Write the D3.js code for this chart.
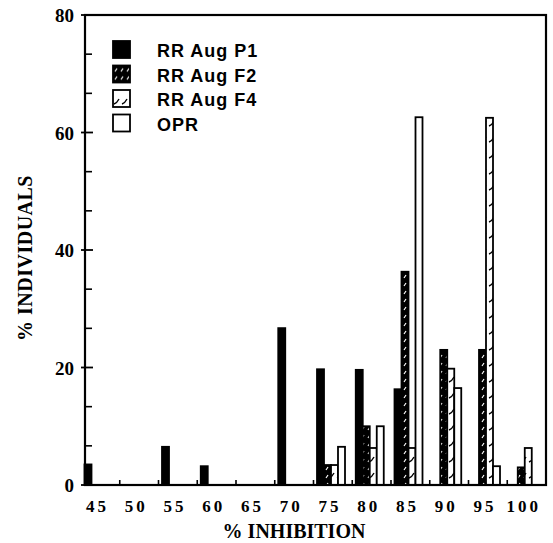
<!DOCTYPE html>
<html lang="en">
	<head>
		<meta charset="utf-8">
		<title>% Inhibition histogram</title>
		<script type="text/javascript" src="https://cdn.jsdelivr.net/npm/d3@7"></script>
		<style type="text/css">
			body { margin: 0; background: #fff; }
			.tick-label {
				font-family: "Liberation Serif", "Times New Roman", serif;
				font-weight: bold;
				fill: #000;
			}
			.axis-title {
				font-family: "Liberation Serif", "Times New Roman", serif;
				font-weight: bold;
				font-size: 20px;
				fill: #000;
			}
			.legend-text {
				font-family: "Liberation Sans", Arial, sans-serif;
				font-weight: bold;
				font-size: 18px;
				letter-spacing: 1px;
				fill: #000;
			}
		</style>
	</head>
	<body>
		<script type="text/javascript">

			var w = 553;
			var h = 543;

			// data
			var categories = ["45", "50", "55", "60", "65", "70", "75", "80", "85", "90", "95", "100"];
			var p1  = [3.5, 0, 6.5, 3.2, 0, 26.7, 19.7, 19.6, 16.3, 0, 0, 0];
			var f2  = [0, 0, 0, 0, 0, 0, 3.4, 10, 36.3, 23, 23, 3];
			var f4  = [0, 0, 0, 0, 0, 0, 3.4, 6.3, 6.3, 19.8, 62.5, 6.3];
			var opr = [0, 0, 0, 0, 0, 0, 6.5, 10, 62.6, 16.5, 3.2, 0];
			var seriesNames = ["RR Aug P1", "RR Aug F2", "RR Aug F4", "OPR"];
			var yTicks = [0, 20, 40, 60, 80];

			var series = [p1, f2, f4, opr];

			// plot box
			var boxL = 85, boxR = 546, boxT = 15, boxB = 485;
			var barW = 7, barOffset = 3.5;

			var svg = d3.select("body")
				.append("svg")
				.attr("width", w)
				.attr("height", h);

			// patterns for F2 (dark, white flecks) and F4 (white, ladder marks)
			var defs = svg.append("defs");
			var pF2 = defs.append("pattern")
				.attr("id", "patF2")
				.attr("patternUnits", "userSpaceOnUse")
				.attr("width", 6).attr("height", 8);
			pF2.append("rect").attr("width", 6).attr("height", 8).attr("fill", "#000");
			pF2.append("line")
				.attr("x1", 2).attr("y1", 6).attr("x2", 4).attr("y2", 3)
				.attr("stroke", "#fff").attr("stroke-width", 1.2);

			var pF4 = defs.append("pattern")
				.attr("id", "patF4")
				.attr("patternUnits", "userSpaceOnUse")
				.attr("width", 8).attr("height", 16);
			pF4.append("rect").attr("width", 8).attr("height", 16).attr("fill", "#fff");
			pF4.append("path")
				.attr("d", "M1,14 Q4,13 6,9")
				.attr("fill", "none")
				.attr("stroke", "#000").attr("stroke-width", 1.4);

			var fills = ["#000", "url(#patF2)", "url(#patF4)", "#fff"];

			var x = d3.scaleBand()
				.domain(categories)
				.range([81, boxR]);

			var y = d3.scaleLinear()
				.domain([0, 80])
				.range([boxB, boxT]);

			// bars
			series.forEach(function(vals, s) {
				svg.append("g")
					.selectAll("rect")
					.data(vals.map(function(v, i) { return { c: categories[i], v: v }; })
						.filter(function(d) { return d.v > 0; }))
					.enter()
					.append("rect")
					.attr("x", function(d) { return x(d.c) + barOffset + s * barW; })
					.attr("y", function(d) { return y(d.v); })
					.attr("width", barW)
					.attr("height", function(d) { return y(0) - y(d.v); })
					.attr("fill", fills[s])
					.attr("stroke", "#000")
					.attr("stroke-width", 1.8);
			});

			// frame
			svg.append("rect")
				.attr("x", boxL).attr("y", boxT)
				.attr("width", boxR - boxL).attr("height", boxB - boxT)
				.attr("fill", "none")
				.attr("stroke", "#000")
				.attr("stroke-width", 2.2);

			// y ticks: majors with labels, two minors in between
			var minor = d3.range(0, 80, 20 / 3).filter(function(v) { return v % 20 > 0.1; });
			svg.append("g")
				.selectAll("line")
				.data(minor)
				.enter()
				.append("line")
				.attr("x1", boxL).attr("x2", boxL + 7)
				.attr("y1", function(d) { return y(d); })
				.attr("y2", function(d) { return y(d); })
				.attr("stroke", "#000").attr("stroke-width", 1.6);

			svg.append("g")
				.selectAll("line")
				.data(yTicks)
				.enter()
				.append("line")
				.attr("x1", boxL - 4).attr("x2", boxL + 8)
				.attr("y1", function(d) { return y(d); })
				.attr("y2", function(d) { return y(d); })
				.attr("stroke", "#000").attr("stroke-width", 1.8);

			svg.append("g")
				.selectAll("text")
				.data(yTicks)
				.enter()
				.append("text")
				.attr("class", "tick-label")
				.attr("x", 74)
				.attr("y", function(d) { return y(d) + 7; })
				.attr("text-anchor", "end")
				.style("font-size", "19px")
				.text(function(d) { return d; });

			// x ticks at group boundaries
			svg.append("g")
				.selectAll("line")
				.data(categories.slice(1))
				.enter()
				.append("line")
				.attr("x1", function(d) { return x(d); })
				.attr("x2", function(d) { return x(d); })
				.attr("y1", boxB).attr("y2", boxB - 5)
				.attr("stroke", "#000").attr("stroke-width", 1.6);

			svg.append("g")
				.selectAll("text")
				.data(categories)
				.enter()
				.append("text")
				.attr("class", "tick-label")
				.attr("x", function(d) { return x(d) + x.bandwidth() / 2 - 3; })
				.attr("y", 512)
				.attr("text-anchor", "middle")
				.style("font-size", "17px")
				.style("letter-spacing", "3px")
				.text(function(d) { return d; });

			// axis titles
			svg.append("text")
				.attr("class", "axis-title")
				.attr("x", 294)
				.attr("y", 538)
				.attr("text-anchor", "middle")
				.text("% INHIBITION");

			svg.append("text")
				.attr("class", "axis-title")
				.attr("transform", "translate(32,258) rotate(-90)")
				.attr("text-anchor", "middle")
				.style("letter-spacing", "0.5px")
				.text("% INDIVIDUALS");

			// legend
			var legend = svg.append("g")
				.selectAll("g")
				.data(seriesNames)
				.enter()
				.append("g")
				.attr("transform", function(d, i) { return "translate(113," + (41 + i * 24.5) + ")"; });

			legend.append("rect")
				.attr("width", 17).attr("height", 17)
				.attr("fill", function(d, i) { return fills[i]; })
				.attr("stroke", "#000")
				.attr("stroke-width", 1.8);

			legend.append("text")
				.attr("class", "legend-text")
				.attr("x", 44)
				.attr("y", 16)
				.text(function(d) { return d; });

		</script>
	</body>
</html>
